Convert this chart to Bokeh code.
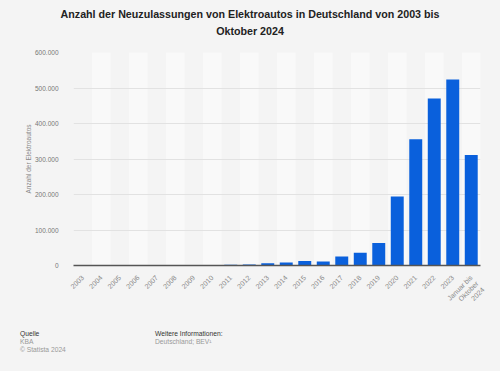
from bokeh.plotting import figure
from bokeh.models import ColumnDataSource, CustomJSTickFormatter, FixedTicker, Range1d, FactorRange, Div
from bokeh.layouts import column
from bokeh.embed import file_html
from bokeh.resources import INLINE
import math

categories = ["2003", "2004", "2005", "2006", "2007", "2008", "2009", "2010", "2011",
              "2012", "2013", "2014", "2015", "2016", "2017", "2018", "2019", "2020",
              "2021", "2022", "2023", "\n\nJanuar bis\nOktober\n2024"]
values = [19, 61, 47, 19, 8, 36, 162, 541, 2154, 2956, 6051, 8522, 12363, 11410,
          25056, 36062, 63281, 194163, 355961, 470559, 524219, 311394]
y_ticks = [0, 100000, 200000, 300000, 400000, 500000, 600000]
title_lines = ["Anzahl der Neuzulassungen von Elektroautos in Deutschland von 2003 bis",
               "Oktober 2024"]
source_lines = ["Quelle", "KBA", "\u00a9 Statista 2024"]
info_lines = ["Weitere Informationen:", "Deutschland; BEV\u00b9"]

FONT = "Liberation Sans"
BG = "#f4f4f4"
W = 500

# title
title_html = (
    f'<div style="position:relative;width:{W}px;height:44px;font-family:\'{FONT}\',Arial,sans-serif;'
    f'font-weight:bold;font-size:10.7px;line-height:17px;color:#222222;text-align:center;'
    f'padding-top:5.5px;box-sizing:border-box;">'
    f'<div>{title_lines[0]}</div><div>{title_lines[1]}</div></div>'
)
t = Div(text=title_html, width=W, height=44, margin=0,
        styles={"background-color": BG})

# main chart
p = figure(width=W, height=287, x_range=FactorRange(factors=categories, range_padding=0),
           y_range=Range1d(0, 600000), output_backend="svg", toolbar_location=None,
           min_border_left=73, min_border_right=20, min_border_top=8, min_border_bottom=66)
p.background_fill_color = BG
p.border_fill_color = BG
p.outline_line_color = None

band_cats = [c for i, c in enumerate(categories) if i % 2 == 1]
band_src = ColumnDataSource(dict(x=band_cats, top=[600000] * len(band_cats)))
bands = p.vbar(x="x", top="top", bottom=0, width=1.0, source=band_src,
               fill_color="#f9f9f9", line_color=None)
bands.level = "image"

src = ColumnDataSource(dict(x=categories, top=values))
p.vbar(x="x", top="top", bottom=0, width=0.7, source=src, fill_color="#0a60dc", line_color=None)

p.xgrid.grid_line_color = None
p.ygrid.grid_line_color = "#e2e2e2"
p.ygrid.grid_line_width = 1
p.yaxis.ticker = FixedTicker(ticks=y_ticks)
p.yaxis.formatter = CustomJSTickFormatter(code="""
return Math.round(tick).toString().replace(/\\B(?=(\\d{3})+(?!\\d))/g, ".");
""")
p.yaxis.axis_line_color = None
p.yaxis.major_tick_line_color = None
p.yaxis.minor_tick_line_color = None
p.yaxis.major_label_text_font = FONT
p.yaxis.major_label_text_font_size = "6.5px"
p.yaxis.major_label_text_color = "#777777"
p.yaxis.major_label_standoff = 9
p.yaxis.axis_label = "Anzahl der Elektroautos"
p.yaxis.axis_label_text_font = FONT
p.yaxis.axis_label_text_font_size = "6.5px"
p.yaxis.axis_label_text_font_style = "normal"
p.yaxis.axis_label_text_color = "#888888"
p.yaxis.axis_label_standoff = 0

p.xaxis.axis_line_color = "#555555"
p.xaxis.axis_line_width = 1.5
p.xaxis.major_tick_line_color = None
p.xaxis.minor_tick_line_color = None
p.xaxis.major_label_orientation = math.pi / 4
p.xaxis.major_label_text_font = FONT
p.xaxis.major_label_text_font_size = "7px"
p.xaxis.major_label_text_color = "#888888"
p.xaxis.major_label_standoff = 5

# footer
def block(lines, left):
    rows = "".join(
        f'<div style="color:{"#333333" if i == 0 else "#999999"};">{s}</div>'
        for i, s in enumerate(lines))
    return f'<div style="position:absolute;left:{left}px;top:5px;">{rows}</div>'

footer_html = (
    f'<div style="position:relative;width:{W}px;height:46px;font-family:\'{FONT}\',Arial,sans-serif;'
    f'font-size:6.7px;line-height:8px;">'
    + block(source_lines, 20) + block(info_lines, 155) + '</div>'
)
ft = Div(text=footer_html, width=W, height=46, margin=(-6, 0, 0, 0),
         styles={"background-color": BG})

layout = column(t, p, ft, spacing=0)
layout.styles = {"background-color": BG}
open("out.html", "w").write(file_html(layout, INLINE))
